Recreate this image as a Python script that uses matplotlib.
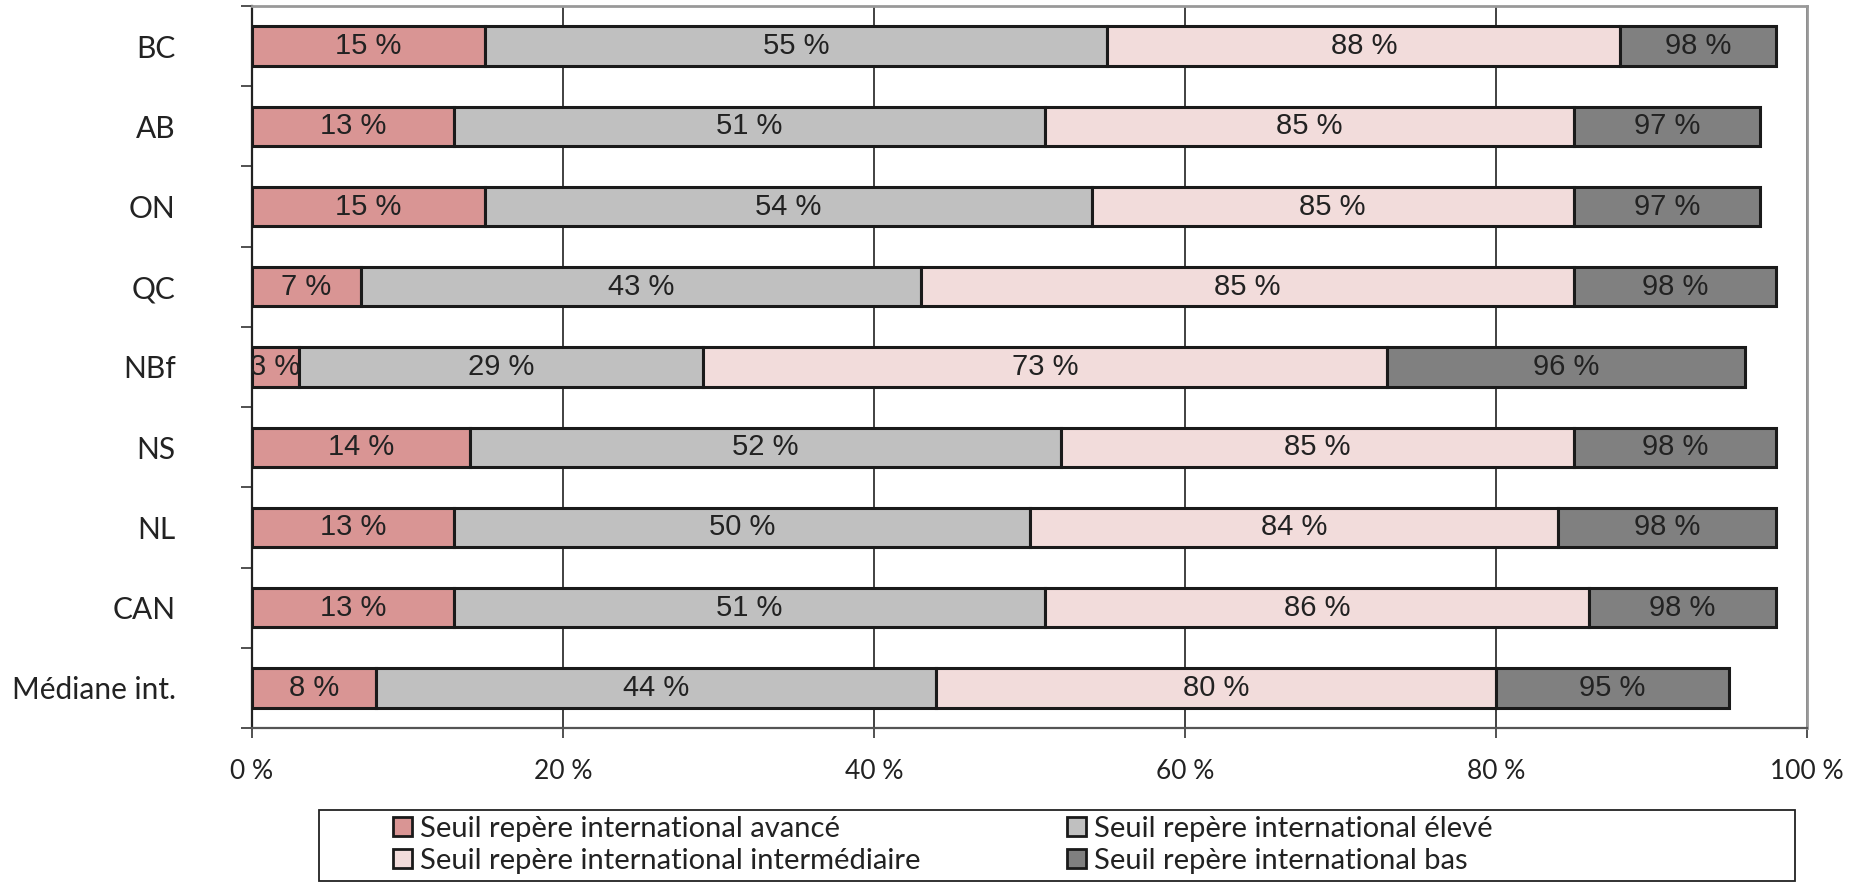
import numpy as np
import matplotlib
matplotlib.use("Agg")
from matplotlib import pyplot as plt
from matplotlib.patches import Patch, Rectangle

# cumulative share of students reaching each benchmark (%)
regions = ["BC", "AB", "ON", "QC", "NBf", "NS", "NL", "CAN", "Médiane int."]
avance = [15, 13, 15, 7, 3, 14, 13, 13, 8]
eleve = [55, 51, 54, 43, 29, 52, 50, 51, 44]
intermediaire = [88, 85, 85, 85, 73, 85, 84, 86, 80]
bas = [98, 97, 97, 98, 96, 98, 98, 98, 95]

series_names = ["Seuil repère international avancé",
                "Seuil repère international élevé",
                "Seuil repère international intermédiaire",
                "Seuil repère international bas"]
colors = ["#D99594", "#C0C0C0", "#F2DCDB", "#808080"]
xticks = [0, 20, 40, 60, 80, 100]

W, H = 1864, 886
fig = plt.figure(figsize=(W / 100, H / 100), dpi=100)
ax = fig.add_axes([252 / W, 1 - 728 / H, (1807 - 252) / W, (728 - 6) / H])

y = np.arange(len(regions))
cum = [avance, eleve, intermediaire, bas]
left = np.zeros(len(regions))
for vals, col in zip(cum, colors):
    vals = np.array(vals, dtype=float)
    ax.barh(y, vals - left, left=left, height=0.49, color=col,
            edgecolor="#1a1a1a", linewidth=2.2, zorder=3)
    for yi, l, v in zip(y, left, vals):
        ax.text((l + v) / 2, yi, f"{int(v)} %", ha="center", va="center",
                fontsize=21, family="Liberation Sans", color="#222222",
                zorder=4, clip_on=True)
    left = vals

ax.set_xlim(0, 100)
ax.set_ylim(len(regions) - 0.5, -0.5)
ax.set_xticks(xticks)
ax.set_xticklabels([f"{t} %" for t in xticks], family="Lato", fontsize=19,
                   color="#222222")
ax.set_yticks(y)
ax.set_yticklabels(regions, family="Lato", fontsize=21.5, color="#222222")
ax.set_yticks(np.arange(-0.5, len(regions)), minor=True)
ax.tick_params(axis="y", which="major", length=0, pad=55)
ax.tick_params(axis="y", which="minor", length=8, width=1.2, color="#333333")
ax.tick_params(axis="x", length=7, width=1.2, color="#333333", pad=15)

ax.grid(axis="x", color="#333333", linewidth=1.3, zorder=0)
ax.set_axisbelow(True)
ax.spines["left"].set_color("#222222")
ax.spines["left"].set_linewidth(1.6)
ax.spines["bottom"].set_color("#555555")
ax.spines["bottom"].set_linewidth(1.6)
ax.spines["top"].set_color("#999999")
ax.spines["top"].set_linewidth(2)
ax.spines["right"].set_color("#999999")
ax.spines["right"].set_linewidth(2)

# legend: box drawn separately, two columns as two frameless legends
fig.patches.append(Rectangle((319 / W, 1 - 881 / H), (1795 - 319) / W, 71 / H,
                             transform=fig.transFigure, facecolor="white",
                             edgecolor="#222222", linewidth=1.3))
handles = [Patch(facecolor=c, edgecolor="#1a1a1a", linewidth=2) for c in colors]
for cols, x0 in (([0, 2], 393), ([1, 3], 1067)):
    fig.legend([handles[i] for i in cols], [series_names[i] for i in cols],
               loc="upper left", bbox_to_anchor=(x0 / W, 1 - 816 / H),
               prop={"family": "Lato", "size": 21}, frameon=False,
               handlelength=0.65, handleheight=0.6, handletextpad=0.28,
               labelspacing=0.2, borderpad=0, borderaxespad=0,
               labelcolor="#222222")

fig.savefig("out.png", dpi=100)
